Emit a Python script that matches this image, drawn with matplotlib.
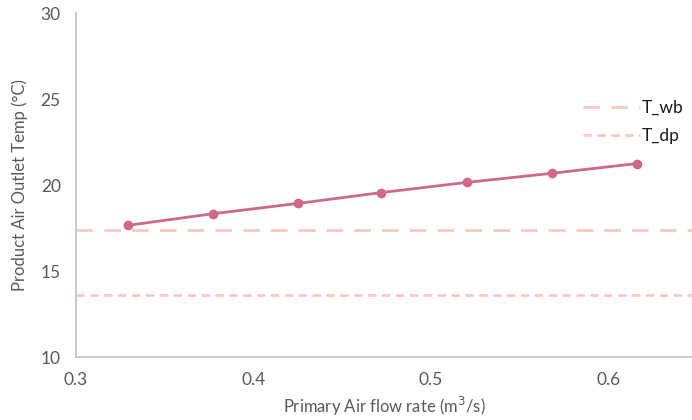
import matplotlib
matplotlib.use("Agg")
import matplotlib.pyplot as plt

flow = [0.329, 0.377, 0.425, 0.472, 0.520, 0.568, 0.616]
temp = [17.65, 18.33, 18.93, 19.56, 20.15, 20.68, 21.25]
t_wb = 17.4
t_dp = 13.6
xticks = [0.3, 0.4, 0.5, 0.6]
yticks = [10, 15, 20, 25, 30]

plt.rcParams['font.family'] = ['Lato', 'DejaVu Sans']
grey = '#595959'

fig = plt.figure(figsize=(6.92, 4.2), dpi=100)
ax = fig.add_axes([0.110, 0.150, 0.890, 0.819])

ax.plot(flow, temp, color='#D0688A', lw=2, marker='o', ms=6, zorder=3)
l1 = ax.axhline(t_wb, color='#F8C9C3', lw=2, dashes=(6, 4), label='T_wb')
l2 = ax.axhline(t_dp, color='#F8C9C3', lw=2, dashes=(3, 2), label='T_dp')

ax.set_xlim(0.3, 0.647)
ax.set_ylim(10, 30)
ax.set_xticks(xticks)
ax.set_yticks(yticks)
ax.set_xticklabels([f'{v:.1f}' for v in xticks])
ax.tick_params(length=0, labelsize=12.5, colors=grey, pad=11)
for s in ['top', 'right']:
    ax.spines[s].set_visible(False)
for s in ['left', 'bottom']:
    ax.spines[s].set_color('#BFBFBF')
    ax.spines[s].set_linewidth(1.2)

ax.set_xlabel('Primary Air flow rate (m$^3$/s)', fontsize=12, color=grey, labelpad=5)
ax.set_ylabel('Product Air Outlet Temp (°C)', fontsize=12, color=grey, labelpad=9)

leg = fig.legend(handles=[l1, l2], loc='upper right', bbox_to_anchor=(1.01, 0.80),
                 frameon=False, fontsize=12.5, handlelength=3.3, handletextpad=0.1,
                 labelspacing=0.7)
for t in leg.get_texts():
    t.set_color('#1a1a1a')
fig.savefig('out.png', dpi=100)
